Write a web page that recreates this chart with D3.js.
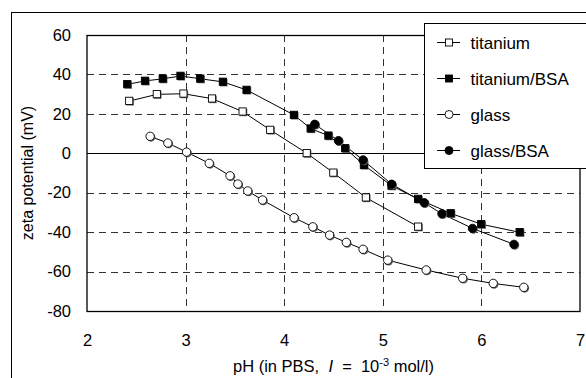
<!DOCTYPE html>
<html>
<head>
<meta charset="utf-8">
<style>
  body { margin: 0; background: #fff; }
  svg text { font-family: Arial, "Liberation Sans", sans-serif; fill: #000; white-space: pre; }
</style>
</head>
<body>
<script src="https://d3js.org/d3.v7.min.js"></script>
<script>
// pH values and zeta potentials (mV)
var titaniumX = [2.43, 2.71, 2.98, 3.27, 3.58, 3.86, 4.23, 4.50, 4.83, 5.36];
var titaniumY = [26.5, 29.9, 30.2, 27.7, 21.1, 11.8, 0, -9.9, -22.5, -37.3];

var titaniumBsaX = [2.41, 2.59, 2.77, 2.95, 3.15, 3.38, 3.62, 4.10, 4.27, 4.45, 4.62, 4.81, 5.09, 5.36, 5.69, 6.00, 6.39];
var titaniumBsaY = [35, 36.7, 37.8, 39.2, 37.8, 36.2, 32.1, 19.4, 12.5, 8.9, 2.5, -6, -16.5, -23.2, -30.5, -36, -40.1];

var glassX = [2.64, 2.82, 3.01, 3.24, 3.45, 3.53, 3.63, 3.78, 4.10, 4.29, 4.46, 4.63, 4.80, 5.05, 5.44, 5.81, 6.12, 6.43];
var glassY = [8.6, 5.2, 0.6, -5.1, -11.4, -15.6, -19.1, -23.7, -32.7, -37.3, -41.5, -45.2, -48.7, -54.2, -59.2, -63.4, -66, -68];

var glassBsaX = [4.31, 4.55, 4.80, 5.09, 5.42, 5.60, 5.91, 6.33];
var glassBsaY = [14.7, 6.4, -3.4, -15.7, -25.1, -30.7, -38.1, -46.2];

var xTicks = [2, 3, 4, 5, 6, 7];
var yTicks = [-80, -60, -40, -20, 0, 20, 40, 60];

var series = [
  {name: 'titanium',     xs: titaniumX,    ys: titaniumY,    shape: 'square', fill: '#fff'},
  {name: 'titanium/BSA', xs: titaniumBsaX, ys: titaniumBsaY, shape: 'square', fill: '#000'},
  {name: 'glass',        xs: glassX,       ys: glassY,       shape: 'circle', fill: '#fff'},
  {name: 'glass/BSA',    xs: glassBsaX,    ys: glassBsaY,    shape: 'circle', fill: '#000'}
];

var W = 586, H = 378;
var svg = d3.select('body').append('svg').attr('width', W).attr('height', H);

// outer chart frame
svg.append('rect').attr('x', 11.5).attr('y', 12.5).attr('width', 600).attr('height', 400)
  .attr('fill', 'none').attr('stroke', '#000').attr('stroke-width', 1);

var pLeft = 87, pRight = 580, pTop = 35, pBottom = 311;
var x = d3.scaleLinear().domain([2, 7]).range([pLeft, pRight]);
var y = d3.scaleLinear().domain([-80, 60]).range([pBottom, pTop]);

// grid
svg.append('g').selectAll('line').data(yTicks.filter(d => d != 0 && d != 60 && d != -80))
  .enter().append('line')
  .attr('x1', pLeft).attr('x2', pRight)
  .attr('y1', d => Math.round(y(d)) + 0.5).attr('y2', d => Math.round(y(d)) + 0.5)
  .attr('stroke', '#333').attr('stroke-dasharray', '7,5');
svg.append('g').selectAll('line').data(xTicks.filter(d => d != 2 && d != 7))
  .enter().append('line')
  .attr('x1', d => Math.round(x(d)) + 0.5).attr('x2', d => Math.round(x(d)) + 0.5)
  .attr('y1', pTop).attr('y2', pBottom)
  .attr('stroke', '#333').attr('stroke-dasharray', '7,5');

// zero line
svg.append('line').attr('x1', pLeft).attr('x2', pRight)
  .attr('y1', Math.round(y(0)) + 0.5).attr('y2', Math.round(y(0)) + 0.5)
  .attr('stroke', '#000');

// plot border
svg.append('rect').attr('x', pLeft).attr('y', pTop + 0.5)
  .attr('width', pRight - pLeft).attr('height', pBottom - pTop)
  .attr('fill', 'none').attr('stroke', '#000').attr('stroke-width', 1.3);

// axes (labels only; Excel style)
var xAxis = svg.append('g').attr('transform', 'translate(0,' + pBottom + ')')
  .call(d3.axisBottom(x).tickValues(xTicks).tickSize(0).tickPadding(23).tickFormat(d3.format('d')));
var yAxis = svg.append('g').attr('transform', 'translate(' + pLeft + ',0)')
  .call(d3.axisLeft(y).tickValues(yTicks).tickSize(0).tickPadding(16).tickFormat(d3.format('d')));
[xAxis, yAxis].forEach(function(a) {
  a.attr('font-size', 16.5).attr('font-family', 'Arial, "Liberation Sans", sans-serif');
  a.select('.domain').remove();
  a.selectAll('text').attr('fill', '#000');
});
yAxis.selectAll('text').text(d => d < 0 ? '-' + Math.abs(d) : d);

// axis titles
var xt = svg.append('text').attr('x', (pLeft + pRight) / 2).attr('y', 372)
  .attr('text-anchor', 'middle').attr('font-size', 16.5);
xt.append('tspan').text('pH (in PBS,  ');
xt.append('tspan').attr('font-style', 'italic').text('I');
xt.append('tspan').text('  =  10');
xt.append('tspan').attr('font-size', 11).attr('dy', -6).text('-3');
xt.append('tspan').attr('dy', 6).text(' mol/l)');

svg.append('text').attr('transform', 'translate(33,' + (pTop + pBottom) / 2 + ') rotate(-90)')
  .attr('text-anchor', 'middle').attr('font-size', 16).text('zeta potential (mV)');

function drawMarker(g, shape, fill, cx, cy) {
  if (shape == 'square') {
    g.append('rect').attr('x', cx - 3).attr('y', cy - 3).attr('width', 7.5).attr('height', 7.5)
      .attr('fill', '#666');
    g.append('rect').attr('x', cx - 3.8).attr('y', cy - 3.8).attr('width', 7.2).attr('height', 7.2)
      .attr('fill', fill).attr('stroke', '#000').attr('stroke-width', 0.9);
  } else {
    g.append('circle').attr('cx', cx + 0.9).attr('cy', cy + 0.9).attr('r', 4.4).attr('fill', '#666');
    g.append('circle').attr('cx', cx).attr('cy', cy).attr('r', 4.2)
      .attr('fill', fill).attr('stroke', '#000').attr('stroke-width', 0.9);
  }
}

var line = d3.line().x(d => x(d[0])).y(d => y(d[1]));
series.forEach(function(s) {
  var pts = s.xs.map((v, i) => [v, s.ys[i]]);
  svg.append('path').datum(pts).attr('d', line)
    .attr('fill', 'none').attr('stroke', '#000').attr('stroke-width', 1);
});
series.forEach(function(s) {
  var g = svg.append('g');
  s.xs.forEach(function(v, i) { drawMarker(g, s.shape, s.fill, x(v), y(s.ys[i])); });
});

// legend
var lg = svg.append('g');
lg.append('rect').attr('x', 424.5).attr('y', 23.5).attr('width', 200).attr('height', 145)
  .attr('fill', '#fff').attr('stroke', '#000');
series.forEach(function(s, i) {
  var cy = 42 + i * 36;
  lg.append('line').attr('x1', 437).attr('x2', 460).attr('y1', cy + 0.5).attr('y2', cy + 0.5)
    .attr('stroke', '#000');
  var g = lg.append('g');
  if (s.shape == 'square') {
    g.append('rect').attr('x', 445.5).attr('y', cy - 3).attr('width', 7).attr('height', 7)
      .attr('fill', s.fill).attr('stroke', '#000').attr('stroke-width', 0.9);
  } else {
    g.append('circle').attr('cx', 449).attr('cy', cy + 0.5).attr('r', 4)
      .attr('fill', s.fill).attr('stroke', '#000').attr('stroke-width', 0.9);
  }
  lg.append('text').attr('x', 470.5).attr('y', cy + 6.5).attr('font-size', 17).text(s.name);
});
</script>
</body>
</html>
